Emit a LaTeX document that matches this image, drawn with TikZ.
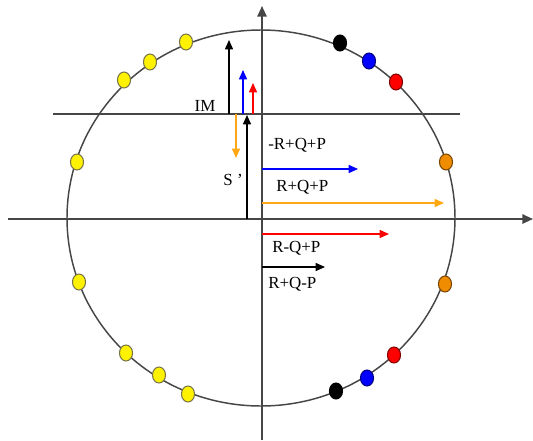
\documentclass[tikz,border=0pt]{standalone}
\usepackage{fontspec}
\setmainfont{Liberation Serif}
\usetikzlibrary{arrows.meta,shapes.geometric}
\definecolor{phorange}{RGB}{255,168,20}
\definecolor{dotorange}{RGB}{240,140,0}
\definecolor{axisgray}{RGB}{70,70,70}

\begin{document}
\begin{tikzpicture}[
  x=0.75pt,y=-0.75pt,
  font=\fontsize{12.7}{15}\selectfont,
  axis/.style={line width=1.4pt,axisgray},
  arr/.style={-{Triangle[length=7pt,width=6pt]},line width=1.1pt},
  dot/.style={ellipse,draw,line width=0.8pt,inner sep=0pt,
              minimum width=9.8pt,minimum height=12pt},
  ydot/.style={dot,fill=yellow,draw=black!60!yellow},
  kdot/.style={dot,fill=black,draw=black},
  bdot/.style={dot,fill=blue,draw=blue!50!black},
  rdot/.style={dot,fill=red,draw=red!50!black},
  odot/.style={dot,fill=dotorange,draw=dotorange!50!black},
  lbl/.style={anchor=west,inner sep=0pt},
]
\useasboundingbox (0,0) rectangle (533,440);

% axes and the unit circle
\coordinate (O) at (262,219);
\coordinate (xl) at (8,219);
\coordinate (xr) at (533,219);
\coordinate (yb) at (262,440);
\coordinate (yt) at (262,6);
\draw[line width=1.1pt,axisgray] (261,218) ellipse [x radius=145.5pt,y radius=141pt];
\draw[axis,-{Triangle[length=8pt,width=7pt]}] (xl) -- (xr);
\draw[axis,-{Triangle[length=8pt,width=7pt]}] (yb) -- (yt);

% imaginary line
\coordinate (iml) at (53,114);
\coordinate (imr) at (460,114);
\draw[axis,line width=1.1pt] (iml) -- (imr);
\node (im) at (205,106) {IM};

% points on the circle
\node[ydot] (y1) at (186,42) {};
\node[ydot] (y2) at (150,62) {};
\node[ydot] (y3) at (124,80) {};
\node[ydot] (y4) at (77,162) {};
\node[ydot] (y5) at (79,282) {};
\node[ydot] (y6) at (126,353) {};
\node[ydot] (y7) at (159,375) {};
\node[ydot] (y8) at (188,394) {};
\node[kdot] (k1) at (340,43) {};
\node[bdot] (b1) at (369,61) {};
\node[rdot] (r1) at (396,82) {};
\node[odot] (o1) at (446,162) {};
\node[odot] (o2) at (445,284) {};
\node[rdot] (r2) at (394,355) {};
\node[bdot] (b2) at (367,378) {};
\node[kdot] (k2) at (336,391) {};

% vertical phasors on the IM line
\coordinate (va0) at (229,114); \coordinate (va1) at (229,40);
\coordinate (vb0) at (243,114); \coordinate (vb1) at (243,70);
\coordinate (vr0) at (253,114); \coordinate (vr1) at (253,83);
\coordinate (vo0) at (236,114); \coordinate (vo1) at (236,158);
\draw[arr,black] (va0) -- (va1);
\draw[arr,blue] (vb0) -- (vb1);
\draw[arr,red] (vr0) -- (vr1);
\draw[arr,phorange] (vo0) -- (vo1);

\coordinate (s0) at (247,219); \coordinate (s1) at (247,115);
\draw[arr,black] (s0) -- (s1);
\node (sp) at (233,180) {S '};

% horizontal phasors
\coordinate (hb) at (358,169);
\coordinate (ho) at (444,203);
\coordinate (hr) at (389,234);
\coordinate (hk) at (325,267);
\draw[arr,blue] (O |- hb) -- (hb);
\draw[arr,phorange] (O |- ho) -- (ho);
\draw[arr,red] (O |- hr) -- (hr);
\draw[arr,black] (O |- hk) -- (hk);

\node[lbl] (l1) at (268,145) {-R+Q+P};
\node[lbl] (l2) at (276,187) {R+Q+P};
\node[lbl] (l3) at (272,248) {R-Q+P};
\node[lbl] (l4) at (268,284) {R+Q-P};
\end{tikzpicture}
\end{document}
